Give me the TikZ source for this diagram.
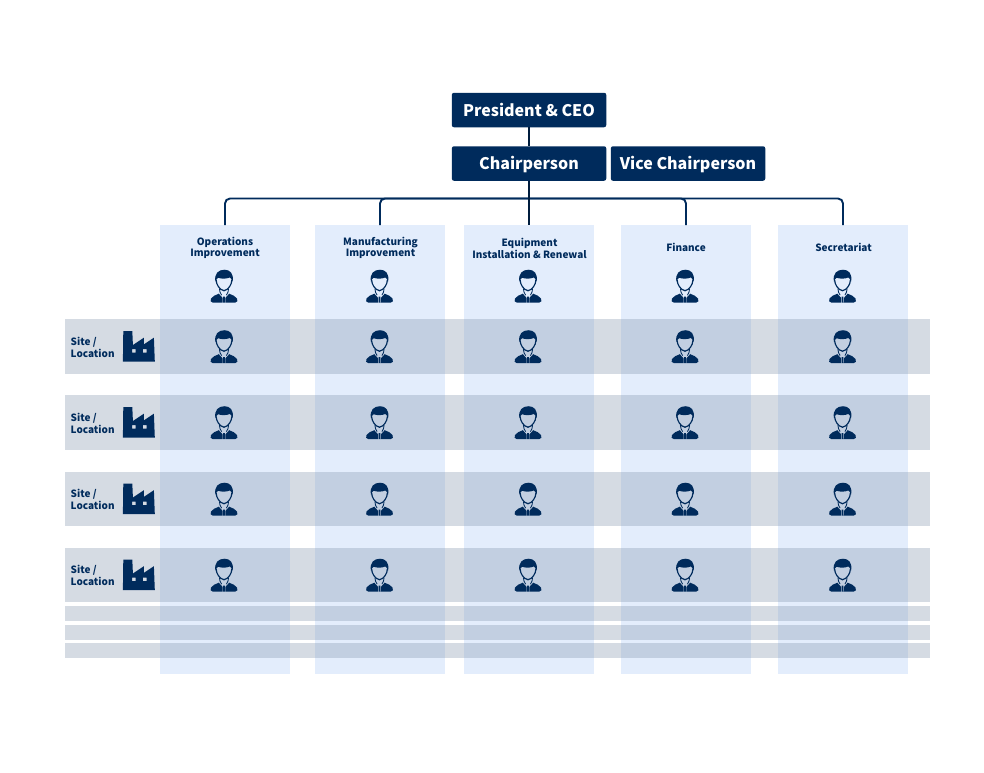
\documentclass[tikz,border=0pt]{standalone}
\usepackage{fontspec}
\setmainfont{Noto Sans CJK JP}
\definecolor{navy}{HTML}{002B5C}
\definecolor{colblue}{HTML}{E3EDFC}
\definecolor{rowgrey}{HTML}{8798AF}
\tikzset{
  topbox/.style={fill=navy,rounded corners=2.2pt,minimum width=154.5pt,minimum height=34.5pt,inner sep=0pt,text=white,text height=15pt,text depth=3pt,font=\fontsize{16}{19}\selectfont\bfseries},
  colband/.style={fill=colblue,minimum width=130pt,minimum height=449pt,inner sep=0pt,anchor=north},
  rowband/.style={fill=rowgrey,fill opacity=0.35,minimum width=865pt,inner sep=0pt,anchor=north west},
  conn/.style={draw=navy,line width=1.9pt,rounded corners=5pt},
  trunk/.style={draw=black!10!navy!75!black,line width=2pt},
  collabel/.style={text=navy,align=center,inner sep=0pt,font=\fontsize{10}{11.6}\selectfont\bfseries},
  sitelabel/.style={text=navy,align=left,inner sep=0pt,anchor=west,font=\fontsize{10}{11.6}\selectfont\bfseries},
  person/.pic={
    % hair and head
    \fill[navy] (-8.6,11) .. controls (-10,3) and (-5.5,-0.8) .. (0.5,-0.8)
       .. controls (6,-0.8) and (10,3) .. (8.6,11)
       .. controls (7.8,9) and (7,7.6) .. (5.8,7)
       .. controls (2,8.6) and (-3,8.4) .. (-5.8,7.2)
       .. controls (-7,8) and (-7.8,9) .. (-8.6,11) -- cycle;
    \draw[navy,line width=1.2pt,line cap=round] (-7.9,9.5) .. controls (-7.7,14) and (-4.5,19.4) .. (0,20.2)
       .. controls (4.5,19.4) and (7.7,14) .. (7.9,9.5);
    \draw[navy,line width=0.85pt] (-4.6,18) .. controls (-4.5,21) and (-3.8,22.5) .. (-2.4,24.6);
    \draw[navy,line width=0.85pt] (4.6,18) .. controls (4.5,21) and (3.8,22.5) .. (2.4,24.6);
    % shoulders
    \fill[navy] (-11,32.2) .. controls (-13.6,32.2) and (-14,29.8) .. (-13,28)
       .. controls (-11.6,25.6) and (-8.5,24.6) .. (-5.2,23.2)
       -- (-1.3,27.5) -- (-1.3,32.2) -- cycle;
    \fill[navy] (11,32.2) .. controls (13.6,32.2) and (14,29.8) .. (13,28)
       .. controls (11.6,25.6) and (8.5,24.6) .. (5.2,23.2)
       -- (1.3,27.5) -- (1.3,32.2) -- cycle;
    \fill[navy] (-0.9,26) -- (0.9,26) -- (1,32.2) -- (-1,32.2) -- cycle;
  },
  factory/.pic={
    \fill[navy,even odd rule] (0,0) -- (9,0) -- (9.6,14) -- (20.6,6.7) -- (20.6,13.3) -- (30.6,6.7) -- (31.5,30.5) -- (-0.4,30.5) -- cycle
      (8.8,18) rectangle (12.4,21.6)
      (19.6,18) rectangle (23.2,21.6);
  }
}
\begin{document}
\begin{tikzpicture}[x=1pt,y=-1pt]
\useasboundingbox (0,0) rectangle (984,772);
\fill[white] (0,0) rectangle (984,772);
% column bands
\node[colband] (col1) at (225,225) {};
\node[colband] (col2) at (380,225) {};
\node[colband] (col3) at (529,225) {};
\node[colband] (col4) at (686,225) {};
\node[colband] (col5) at (843,225) {};
% row bands
\node[rowband,minimum height=55pt] (row1) at (65,319) {};
\node[rowband,minimum height=55pt] (row2) at (65,395) {};
\node[rowband,minimum height=54.5pt] (row3) at (65,471.5) {};
\node[rowband,minimum height=54.5pt] (row4) at (65,547.5) {};
\node[rowband,minimum height=15pt] (row5) at (65,606) {};
\node[rowband,minimum height=15pt] (row6) at (65,625) {};
\node[rowband,minimum height=15pt] (row7) at (65,643) {};
% top boxes
\node[topbox] (ceo) at (529,110) {President \& CEO};
\node[topbox] (chair) at (529,163.5) {Chairperson};
\node[topbox] (vice) at (688,163.5) {Vice Chairperson};
% connectors
\coordinate (bus) at (529,198.5);
\draw[trunk] (ceo.south) -- (chair.north);
\draw[conn] (col1.north) |- (bus);
\draw[conn] (col2.north) |- (bus);
\draw[conn] (col4.north) |- (bus);
\draw[conn] (col5.north) |- (bus);
\draw[trunk] (chair.south) -- (col3.north);
% column labels
\node[collabel] (lab1) at (225,248) {Operations\\Improvement};
\node[collabel] (lab2) at (380.5,248) {Manufacturing\\Improvement};
\node[collabel] (lab3) at (529.5,248.5) {Equipment\\Installation \& Renewal};
\node[collabel] (lab4) at (686,247.5) {Finance};
\node[collabel] (lab5) at (843.5,247.5) {Secretariat};
% people
\foreach \px in {224,379.5,528,685,842.5}{
  \foreach \py in {270.5,331,407,483.5,559.5}{
    \pic at (\px,\py) {person};
  }
}
% site labels and factories
\foreach \n/\ty/\fy in {a/347.5/331,b/423.5/407,c/499.5/483.5,d/575.5/559.5}{
  \node[sitelabel] (site\n) at (70.5,\ty) {Site /\\Location};
  \pic at (123.3,\fy) {factory};
}
\end{tikzpicture}
\end{document}
